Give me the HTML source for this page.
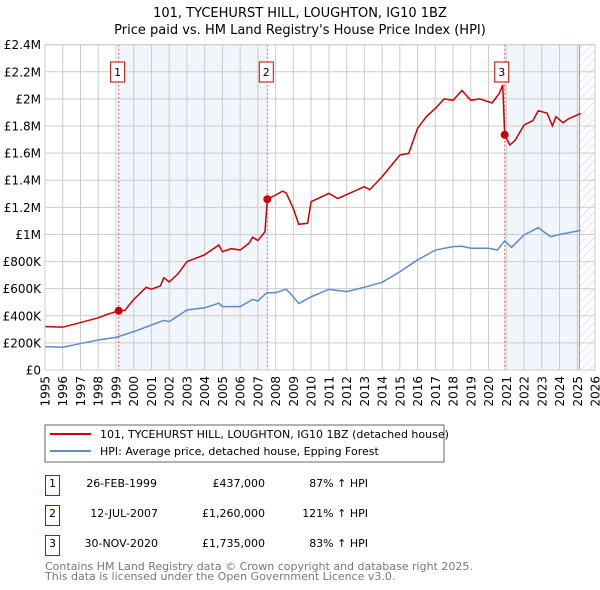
<!DOCTYPE html>
<html><head><meta charset="utf-8"><style>
body{margin:0;background:#fff;font-family:"Liberation Sans",sans-serif;}
svg{display:block}
</style></head><body>
<svg id="c" width="600" height="590" xmlns="http://www.w3.org/2000/svg" font-family="DejaVu Sans, Liberation Sans, sans-serif">
<text x="300" y="17" text-anchor="middle" font-size="13">101, TYCEHURST HILL, LOUGHTON, IG10 1BZ</text>
<text x="300" y="34" text-anchor="middle" font-size="13">Price paid vs. HM Land Registry's House Price Index (HPI)</text>
<defs><pattern id="h" width="6" height="6" patternUnits="userSpaceOnUse" patternTransform="rotate(45)"><line x1="0" y1="0" x2="0" y2="6" stroke="#ccc" stroke-width="1"/></pattern></defs>
<g id="plot"></g>
<rect x="45" y="425" width="399" height="37" fill="#fff" stroke="#666"/>
<line x1="50" y1="434" x2="91" y2="434" stroke="#cc0000" stroke-width="2"/>
<text x="100" y="438" font-size="11">101, TYCEHURST HILL, LOUGHTON, IG10 1BZ (detached house)</text>
<line x1="50" y1="451" x2="91" y2="451" stroke="#5b8bd0" stroke-width="2"/>
<text x="100" y="455" font-size="11">HPI: Average price, detached house, Epping Forest</text>
<g font-size="11">
<rect x="45.5" y="475.5" width="14" height="20" fill="#fff" stroke="#cc0000"/><text x="52.5" y="487" text-anchor="middle">1</text>
<text x="157" y="487" text-anchor="end">26-FEB-1999</text><text x="265" y="487" text-anchor="end">£437,000</text><text x="368" y="487" text-anchor="end">87% ↑ HPI</text>
<rect x="45.5" y="505.5" width="14" height="20" fill="#fff" stroke="#cc0000"/><text x="52.5" y="517" text-anchor="middle">2</text>
<text x="158" y="517" text-anchor="end">12-JUL-2007</text><text x="265" y="517" text-anchor="end">£1,260,000</text><text x="368" y="517" text-anchor="end">121% ↑ HPI</text>
<rect x="45.5" y="535.5" width="14" height="20" fill="#fff" stroke="#cc0000"/><text x="52.5" y="547" text-anchor="middle">3</text>
<text x="158" y="547" text-anchor="end">30-NOV-2020</text><text x="265" y="547" text-anchor="end">£1,735,000</text><text x="368" y="547" text-anchor="end">83% ↑ HPI</text>
</g>
<text x="45" y="570" font-size="11" fill="#777">Contains HM Land Registry data © Crown copyright and database right 2025.</text>
<text x="45" y="580" font-size="11" fill="#777">This data is licensed under the Open Government Licence v3.0.</text>
</svg>
<script>
const hpiYears=[1995,1996,1997,1998,1999,2000,2001,2001.7,2002,2003,2004,2004.8,2005,2006,2006.7,2007,2007.5,2008,2008.6,2009,2009.3,2010,2011,2012,2013,2014,2015,2016,2017,2018,2018.5,2019,2020,2020.5,2020.9,2021.3,2022,2022.8,2023.5,2024,2025.2];
const hpiValues=[172,168,195,221,241,283,332,366,356,443,459,493,468,468,520,510,570,570,596,540,490,540,595,578,610,647,725,812,885,910,913,898,898,885,952,905,996,1050,983,1000,1030];
const redYears=[1995,1996,1997,1998,1998.5,1999.15,1999.5,2000,2000.7,2001,2001.5,2001.7,2002,2002.5,2003,2003.5,2004,2004.8,2005,2005.5,2006,2006.5,2006.7,2007,2007.4,2007.53,2008,2008.4,2008.6,2009,2009.3,2009.8,2010,2011,2011.5,2012,2013,2013.3,2014,2015,2015.5,2016,2016.5,2017,2017.5,2018,2018.5,2019,2019.5,2020.2,2020.6,2020.8,2020.91,2021.2,2021.5,2022,2022.5,2022.8,2023.3,2023.6,2023.8,2024.2,2024.5,2025.2];
const redValues=[320,316,350,385,410,437,440,520,610,596,620,680,650,710,800,825,850,922,873,895,885,935,979,955,1020,1260,1291,1320,1305,1190,1075,1082,1242,1303,1265,1294,1352,1330,1426,1586,1598,1783,1870,1930,2000,1990,2062,1990,2000,1970,2040,2103,1735,1660,1695,1807,1840,1913,1895,1801,1869,1824,1853,1893];
const saleYears=[1999.15,2007.53,2020.91];
const saleValues=[437,1260,1735];
const saleLabels=["1","2","3"];
const yTicks=[0,200,400,600,800,1000,1200,1400,1600,1800,2000,2200,2400];
const yTickLabels=["£0","£200K","£400K","£600K","£800K","£1M","£1.2M","£1.4M","£1.6M","£1.8M","£2M","£2.2M","£2.4M"];
const NS="http://www.w3.org/2000/svg";
const L=45,R=595,T=44.7,B=370,X0=1995,X1=2026,YMAX=2400;
const sx=y=>L+(y-X0)/(X1-X0)*(R-L);
const sy=v=>B-v/YMAX*(B-T);
const g=document.getElementById('plot');
function mk(t,a){const e=document.createElementNS(NS,t);for(const k in a)e.setAttribute(k,a[k]);g.appendChild(e);return e;}
let e;
e=mk('rect',{x:sx(saleYears[0]),y:T,width:sx(saleYears[1])-sx(saleYears[0]),height:B-T,fill:'#eef2fb',opacity:0.8});


e=mk('rect',{x:sx(saleYears[2]),y:T,width:sx(2025.12)-sx(saleYears[2]),height:B-T,fill:'#eef2fb',opacity:0.8});


e=mk('rect',{x:sx(2025.12),y:T,width:R-sx(2025.12),height:B-T,fill:'url(#h)'});


for(let y=X0;y<=X1;y++){
 e=mk('line',{x1:sx(y),x2:sx(y),y1:T,y2:B,stroke:'#ccc','stroke-width':1});
 
 
 e=mk('text',{transform:`translate(${sx(y)+4.5},${B+6}) rotate(-90)`,'text-anchor':'end','font-size':12});
 e.textContent=y;
 
 
}
yTicks.forEach((v,i)=>{
 e=mk('line',{x1:L,x2:R,y1:sy(v),y2:sy(v),stroke:'#ccc','stroke-width':1});
 
 
 e=mk('text',{x:41,y:sy(v)+4.5,'text-anchor':'end','font-size':12});
 e.textContent=yTickLabels[i];
 
 
});
e=mk('line',{x1:sx(2025.12),x2:sx(2025.12),y1:T,y2:B,stroke:'#999','stroke-width':1});


saleYears.forEach((y,i)=>{
 e=mk('line',{x1:sx(y),x2:sx(y),y1:T,y2:B,stroke:'#e06060','stroke-width':1,'stroke-dasharray':'2,2'});
 
 
});
e=mk('polyline',{points:hpiYears.map((y,i)=>sx(y)+','+sy(hpiValues[i])).join(' '),fill:'none',stroke:'#5b8bd0','stroke-width':1.5});


e=mk('polyline',{points:redYears.map((y,i)=>sx(y)+','+sy(redValues[i])).join(' '),fill:'none',stroke:'#cc0000','stroke-width':1.5});


saleYears.forEach((y,i)=>{
 e=mk('circle',{cx:sx(y),cy:sy(saleValues[i]),r:4,fill:'#cc0000'});
 
 
 const bx=sx(y)-8-(i==2?2:0);
 e=mk('rect',{x:bx,y:62,width:14,height:20,fill:'#fff',stroke:'#cc0000'});
 
 
 e=mk('text',{x:bx+7,y:76,'text-anchor':'middle','font-size':11});
 e.textContent=saleLabels[i];
 
 
});
e=mk('rect',{x:L,y:T,width:R-L,height:B-T,fill:'none',stroke:'#ccc'});


</script>
</body></html>
